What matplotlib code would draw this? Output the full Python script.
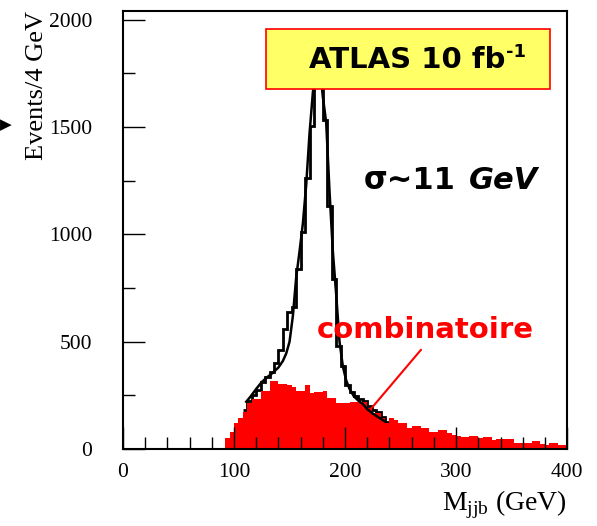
import numpy as np
import matplotlib
matplotlib.use("Agg")
import matplotlib.pyplot as plt
from matplotlib.patches import Rectangle
from matplotlib.ticker import MultipleLocator

plt.rcParams['font.family'] = 'Liberation Serif'
plt.rcParams['mathtext.fontset'] = 'custom'
plt.rcParams['mathtext.rm'] = 'Liberation Serif'

# Bins de 4 GeV
bin_width = 4

# Fond combinatoire (rouge), de 88 a 400 GeV
bkg_start = 88
bkg_counts = [6, 50, 81, 123, 143, 174, 216, 232, 233, 268,
              270, 315, 315, 304, 304, 300, 291, 268, 270, 299,
              263, 265, 265, 271, 237, 237, 216, 216, 216, 220,
              220, 220, 220, 191, 168, 168, 145, 121, 145, 135,
              121, 121, 98, 107, 107, 98, 98, 81, 81, 88,
              89, 73, 65, 61, 54, 54, 59, 59, 53, 54,
              54, 42, 45, 45, 45, 45, 30, 30, 30, 30,
              35, 35, 23, 19, 28, 28, 19, 19]

# Total signal + fond, de 108 a 240 GeV
tot_start = 108
tot_counts = [180, 222, 250, 275, 310, 335, 360, 400, 462, 560,
              640, 660, 836, 1010, 1260, 1506, 1760, 1720, 1530, 1130,
              790, 480, 385, 300, 265, 245, 235, 225, 200, 180,
              170, 150, 125]

# Ajustement
fit_mass = [111, 115, 120, 125, 130, 135, 140, 144, 147, 150, 153, 156, 159,
            162, 165, 168, 171, 174, 176, 178, 180, 183, 186, 189, 192, 195,
            198, 201, 204, 208, 212, 216, 220, 225, 230, 236]
fit_counts = [220, 245, 280, 312, 335, 355, 380, 410, 445, 500, 620, 800, 920,
              1050, 1230, 1470, 1660, 1790, 1800, 1740, 1640, 1520, 1200, 920,
              720, 500, 385, 320, 280, 245, 225, 210, 185, 165, 148, 128]

bkg_edges = bkg_start + bin_width * np.arange(len(bkg_counts) + 1)
tot_edges = tot_start + bin_width * np.arange(len(tot_counts) + 1)

fig = plt.figure(figsize=(5.97, 5.26), dpi=100)
ax = fig.add_axes([0.206, 0.1464, 0.744, 0.8327])

ax.stairs(tot_counts, tot_edges, baseline=None, color='black', lw=2, zorder=1.8)
ax.stairs(bkg_counts, bkg_edges, fill=True, color='#ff0000', zorder=2)
ax.plot(fit_mass, fit_counts, color='black', lw=1.8, zorder=2.2)

ax.set_xlim(0, 400)
ax.set_ylim(0, 2040)
ax.set_axisbelow(False)
ax.xaxis.set_major_locator(MultipleLocator(100))
ax.xaxis.set_minor_locator(MultipleLocator(20))
ax.yaxis.set_major_locator(MultipleLocator(500))
ax.yaxis.set_minor_locator(MultipleLocator(250))
ax.tick_params(which='both', direction='in', top=False, right=False,
               labelsize=15.5, width=1)
ax.tick_params(which='major', length=16)
ax.tick_params(which='minor', length=8.5)
ax.tick_params(axis='x', pad=10)
ax.tick_params(axis='y', pad=22)
for s in ax.spines.values():
    s.set_linewidth(1.5)

ax.set_xlabel(r"M$_{\rm jjb}$ (GeV)", fontsize=20, loc='right', labelpad=5)
ax.set_ylabel("Events/4 GeV", fontsize=19, loc='top')
ax.yaxis.set_label_coords(-0.168, 1.0)

fig.text(0.0, 1 - 125 / 526, "\u25b6", family='DejaVu Sans', fontsize=11,
         ha='left', va='center')

# cadre ATLAS
ax.add_patch(Rectangle((0.322, 0.822), 0.640, 0.137, transform=ax.transAxes,
                       facecolor='#ffff66', edgecolor='#ff0000', lw=1.2,
                       zorder=5, clip_on=False))
ax.text(0.860, 0.889, "ATLAS 10 fb", transform=ax.transAxes,
        family='DejaVu Sans', fontweight='bold', fontsize=21,
        ha='right', va='center', zorder=6)
ax.text(0.862, 0.907, "-1", transform=ax.transAxes,
        family='DejaVu Sans', fontweight='bold', fontsize=13,
        ha='left', va='center', zorder=6)

ax.text(0.541, 0.612, "\u03c3~11", transform=ax.transAxes, family='DejaVu Sans',
        fontweight='bold', fontsize=22, ha='left', va='center')
ax.text(0.935, 0.612, "GeV", transform=ax.transAxes, family='DejaVu Sans',
        fontweight='bold', style='italic', fontsize=22, ha='right', va='center')

ax.text(0.680, 0.272, "combinatoire", transform=ax.transAxes, family='DejaVu Sans',
        fontweight='bold', fontsize=21, color='#ff0000', ha='center', va='center')
ax.annotate("", xy=(222.5, 182), xytext=(270, 472),
            arrowprops=dict(arrowstyle='-', color='#ff0000', lw=1.5))

fig.savefig("out.png", dpi=100)
